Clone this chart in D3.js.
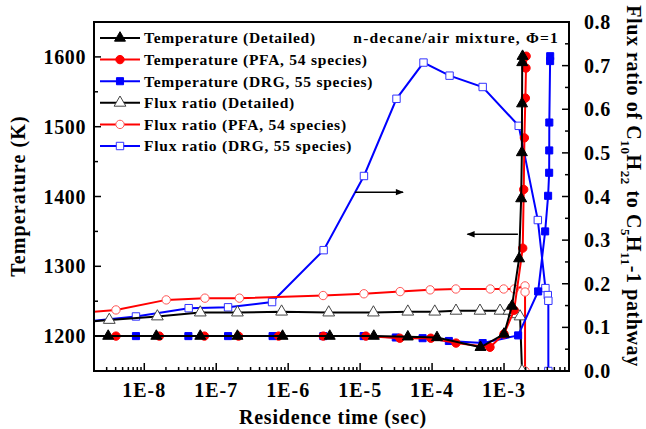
<!DOCTYPE html>
<html>
<head>
<meta charset="utf-8">
<script src="https://cdn.jsdelivr.net/npm/d3@7"></script>
<style>
  body { margin: 0; background: #fff; }
  svg { display: block; font-family: 'Liberation Serif', 'Times New Roman', serif; font-weight: bold; }
</style>
</head>
<body>
<svg id="chart"></svg>
<script>
const width = 646
const height = 429
const margin = { left: 94, right: 77, top: 22, bottom: 58 }

// residence time (sec) and values
const tempDetT = [1e-9, 3.15e-9, 1.47e-8, 6.0e-8, 1.97e-7, 8.35e-7, 3.78e-6, 1.55e-5, 4.6e-5, 1.17e-4, 4.71e-4, 1.0e-3, 1.29e-3, 1.62e-3, 1.73e-3, 1.77e-3, 1.78e-3, 1.79e-3, 1.81e-3]
const tempDetV = [1200, 1200, 1200, 1200, 1200, 1200, 1200, 1200, 1199, 1198, 1184, 1203, 1243, 1311, 1397, 1463, 1533, 1592, 1601]

const tempPfaT = [1e-9, 4.04e-9, 1.62e-8, 6.85e-8, 2.04e-7, 7.35e-7, 3.08e-6, 1.2e-5, 3.56e-5, 9.6e-5, 2.15e-4, 6.38e-4, 1.0e-3, 1.38e-3, 1.82e-3, 1.88e-3, 1.92e-3, 1.98e-3, 2.02e-3, 2.03e-3]
const tempPfaV = [1200, 1200, 1200, 1200, 1200, 1200, 1200, 1200, 1197, 1197, 1190, 1184, 1203, 1237, 1326, 1410, 1484, 1541, 1584, 1601]

const tempDrgT = [1e-9, 7.66e-9, 4.1e-8, 1.46e-7, 6.07e-7, 3.08e-6, 1.12e-5, 3.13e-5, 7.38e-5, 1.71e-4, 5.05e-4, 1.57e-3, 2.98e-3, 3.73e-3, 4.1e-3, 4.24e-3, 4.25e-3, 4.26e-3, 4.37e-3, 4.38e-3]
const tempDrgV = [1200, 1200, 1200, 1200, 1200, 1200, 1200, 1198, 1197, 1193, 1190, 1201, 1264, 1350, 1401, 1434, 1466, 1506, 1594, 1601]

const fluxDetT = [1e-9, 3.26e-9, 1.52e-8, 6.0e-8, 1.97e-7, 8.1e-7, 3.66e-6, 1.53e-5, 4.6e-5, 1.09e-4, 2.15e-4, 4.63e-4, 8.8e-4, 1.17e-3, 1.38e-3, 1.52e-3, 1.67e-3, 1.78e-3]
const fluxDetV = [0.110, 0.117, 0.125, 0.134, 0.134, 0.136, 0.134, 0.134, 0.136, 0.136, 0.138, 0.138, 0.138, 0.138, 0.135, 0.130, 0.125, 0.0]

const fluxPfaT = [1e-9, 4.04e-9, 2.02e-8, 6.96e-8, 2.1e-7, 3.06e-6, 1.13e-5, 3.6e-5, 9.4e-5, 2.14e-4, 6.44e-4, 9.9e-4, 1.39e-3, 1.96e-3, 1.96e-3, 1.96e-3]
const fluxPfaV = [0.132, 0.140, 0.163, 0.167, 0.167, 0.173, 0.177, 0.182, 0.186, 0.188, 0.188, 0.188, 0.188, 0.195, 0.181, 0.0]

const fluxDrgT = [1e-9, 7.66e-9, 4.14e-8, 1.46e-7, 5.97e-7, 3.11e-6, 1.13e-5, 3.2e-5, 7.6e-5, 1.75e-4, 5.05e-4, 1.6e-3, 2.95e-3, 3.76e-3, 4.06e-3, 4.13e-3, 4.13e-3]
const fluxDrgV = [0.110, 0.125, 0.144, 0.146, 0.158, 0.277, 0.447, 0.624, 0.707, 0.677, 0.651, 0.562, 0.346, 0.190, 0.174, 0.161, 0.0]

const legendLabels = [
  'Temperature (Detailed)',
  'Temperature (PFA, 54 species)',
  'Temperature (DRG, 55 species)',
  'Flux ratio (Detailed)',
  'Flux ratio (PFA, 54 species)',
  'Flux ratio (DRG, 55 species)',
]
const xTickLabels = ['1E-8', '1E-7', '1E-6', '1E-5', '1E-4', '1E-3']
const tempTicks = [1200, 1300, 1400, 1500, 1600]
const fluxTicks = [0.0, 0.1, 0.2, 0.3, 0.4, 0.5, 0.6, 0.7, 0.8]

const x = d3.scaleLog().domain([2e-9, 8e-3]).range([margin.left, width - margin.right])
const yT = d3.scaleLinear().domain([1150, 1650]).range([height - margin.bottom, margin.top])
const yF = d3.scaleLinear().domain([0, 0.8]).range([height - margin.bottom, margin.top])

const svg = d3.select('#chart').attr('width', width).attr('height', height)

svg.append('clipPath').attr('id', 'plot')
  .append('rect')
  .attr('x', margin.left).attr('y', margin.top)
  .attr('width', width - margin.left - margin.right)
  .attr('height', height - margin.top - margin.bottom)

const series = [
  { t: tempDetT, v: tempDetV, y: yT, color: '#000', mark: d3.symbolTriangle, size: 52, fill: '#000', mstroke: '#000' },
  { t: tempPfaT, v: tempPfaV, y: yT, color: '#f00', mark: d3.symbolCircle, size: 55, fill: '#f00', mstroke: '#f00' },
  { t: tempDrgT, v: tempDrgV, y: yT, color: '#00f', mark: d3.symbolSquare, size: 50, fill: '#00f', mstroke: '#00f' },
  { t: fluxDetT, v: fluxDetV, y: yF, color: '#000', mark: d3.symbolTriangle, size: 60, fill: '#fff', mstroke: '#444' },
  { t: fluxPfaT, v: fluxPfaV, y: yF, color: '#f00', mark: d3.symbolCircle, size: 55, fill: '#fff', mstroke: '#f55' },
  { t: fluxDrgT, v: fluxDrgV, y: yF, color: '#00f', mark: d3.symbolSquare, size: 55, fill: '#fff', mstroke: '#33f' },
]

const plot = svg.append('g').attr('clip-path', 'url(#plot)')

// draw flux ratio first, temperatures on top
const drawOrder = [5, 4, 3, 2, 1, 0]
drawOrder.forEach(i => {
  const s = series[i]
  const pts = s.t.map((t, j) => [t, s.v[j]])
  plot.append('path')
    .datum(pts)
    .attr('fill', 'none')
    .attr('stroke', s.color)
    .attr('stroke-width', 2)
    .attr('d', d3.line().x(d => x(d[0])).y(d => s.y(d[1])))
  plot.selectAll(null)
    .data(pts)
    .enter()
    .append('path')
    .attr('transform', d => `translate(${x(d[0])},${s.y(d[1])})`)
    .attr('d', d3.symbol().type(s.mark).size(s.size))
    .attr('fill', s.fill)
    .attr('stroke', s.mstroke)
    .attr('stroke-width', 1)
})

// frame
svg.append('rect')
  .attr('x', margin.left).attr('y', margin.top)
  .attr('width', width - margin.left - margin.right)
  .attr('height', height - margin.top - margin.bottom)
  .attr('fill', 'none').attr('stroke', '#000').attr('stroke-width', 2)

// bottom ticks (inward)
const bottom = height - margin.bottom
const xMinor = x.ticks().filter(t => t >= 2e-9 && t <= 8e-3)
svg.selectAll('.xtick')
  .data(xMinor)
  .enter()
  .append('line')
  .attr('x1', d => x(d)).attr('x2', d => x(d))
  .attr('y1', bottom)
  .attr('y2', d => Math.abs(Math.log10(d) - Math.round(Math.log10(d))) < 1e-6 ? bottom - 8 : bottom - 4)
  .attr('stroke', '#000').attr('stroke-width', 1.5)

svg.selectAll('.xlabel')
  .data(xTickLabels)
  .enter()
  .append('text')
  .attr('x', d => x(+d))
  .attr('y', 397)
  .attr('text-anchor', 'middle')
  .attr('font-size', 20)
  .attr('letter-spacing', 1)
  .text(d => d)

// left axis ticks
const left = margin.left
svg.selectAll('.ltick')
  .data(d3.range(1150, 1651, 50))
  .enter()
  .append('line')
  .attr('x1', left).attr('x2', d => d % 100 === 0 ? left + 7 : left + 4)
  .attr('y1', d => yT(d)).attr('y2', d => yT(d))
  .attr('stroke', '#000').attr('stroke-width', 1.5)

svg.selectAll('.llabel')
  .data(tempTicks)
  .enter()
  .append('text')
  .attr('x', 86)
  .attr('y', d => yT(d))
  .attr('dy', '0.35em')
  .attr('text-anchor', 'end')
  .attr('font-size', 20)
  .attr('letter-spacing', 0.6)
  .text(d => d)

// right axis ticks
const right = width - margin.right
svg.selectAll('.rtick')
  .data(d3.range(0, 17).map(i => i * 0.05))
  .enter()
  .append('line')
  .attr('x1', right).attr('x2', (d, i) => i % 2 === 0 ? right - 7 : right - 4)
  .attr('y1', d => yF(d)).attr('y2', d => yF(d))
  .attr('stroke', '#000').attr('stroke-width', 1.5)

svg.selectAll('.rlabel')
  .data(fluxTicks)
  .enter()
  .append('text')
  .attr('x', 584)
  .attr('y', d => yF(d))
  .attr('dy', '0.35em')
  .attr('font-size', 20)
  .attr('letter-spacing', 0.6)
  .text(d => d.toFixed(1))

// axis titles
svg.append('text')
  .attr('x', 333).attr('y', 424)
  .attr('text-anchor', 'middle')
  .attr('font-size', 20)
  .attr('letter-spacing', 0.8)
  .text('Residence time (sec)')

svg.append('text')
  .attr('transform', 'translate(25,196) rotate(-90)')
  .attr('text-anchor', 'middle')
  .attr('font-size', 20)
  .attr('letter-spacing', 1.1)
  .text('Temperature (K)')

const rt = svg.append('text')
  .attr('transform', 'translate(627,186) rotate(90)')
  .attr('text-anchor', 'middle')
  .attr('font-size', 20)
  .attr('letter-spacing', 0.6)
rt.append('tspan').text('Flux ratio of C')
rt.append('tspan').attr('dy', 6).attr('font-size', 13).text('10')
rt.append('tspan').attr('dy', -6).text('H')
rt.append('tspan').attr('dy', 6).attr('font-size', 13).text('22')
rt.append('tspan').attr('dy', -6).text(' to C')
rt.append('tspan').attr('dy', 6).attr('font-size', 13).text('5')
rt.append('tspan').attr('dy', -6).text('H')
rt.append('tspan').attr('dy', 6).attr('font-size', 13).text('11')
rt.append('tspan').attr('dy', -6).text('-1 pathway')

// annotation
svg.append('text')
  .attr('x', 559).attr('y', 38)
  .attr('dy', '0.35em')
  .attr('text-anchor', 'end')
  .attr('font-size', 15.5)
  .attr('letter-spacing', 1.2)
  .text('n-decane/air mixture, \u03A6=1')

// arrows
svg.append('defs').append('marker')
  .attr('id', 'head')
  .attr('viewBox', '0 0 10 10')
  .attr('refX', 9).attr('refY', 5)
  .attr('markerWidth', 10).attr('markerHeight', 8)
  .attr('markerUnits', 'userSpaceOnUse')
  .attr('orient', 'auto')
  .append('path').attr('d', 'M0,1 L10,5 L0,9 Z').attr('fill', '#000')

svg.append('line')
  .attr('x1', x(8.5e-6)).attr('x2', x(3.95e-5))
  .attr('y1', yF(0.41)).attr('y2', yF(0.41))
  .attr('stroke', '#000').attr('stroke-width', 1.5)
  .attr('marker-end', 'url(#head)')

svg.append('line')
  .attr('x1', x(1.56e-3)).attr('x2', x(3.1e-4))
  .attr('y1', yT(1346)).attr('y2', yT(1346))
  .attr('stroke', '#000').attr('stroke-width', 1.5)
  .attr('marker-end', 'url(#head)')

// legend
const legend = svg.append('g')
legendLabels.forEach((label, i) => {
  const s = series[i]
  const ly = 38 + i * 21.6
  legend.append('line')
    .attr('x1', 100).attr('x2', 140)
    .attr('y1', ly).attr('y2', ly)
    .attr('stroke', s.color).attr('stroke-width', 2)
  legend.append('path')
    .attr('transform', `translate(120,${ly})`)
    .attr('d', d3.symbol().type(s.mark).size(s.size))
    .attr('fill', s.fill)
    .attr('stroke', s.mstroke)
    .attr('stroke-width', 1)
  legend.append('text')
    .attr('x', 144).attr('y', ly)
    .attr('dy', '0.35em')
    .attr('font-size', 15.5)
    .attr('letter-spacing', 0.75)
    .text(label)
})
</script>
</body>
</html>
